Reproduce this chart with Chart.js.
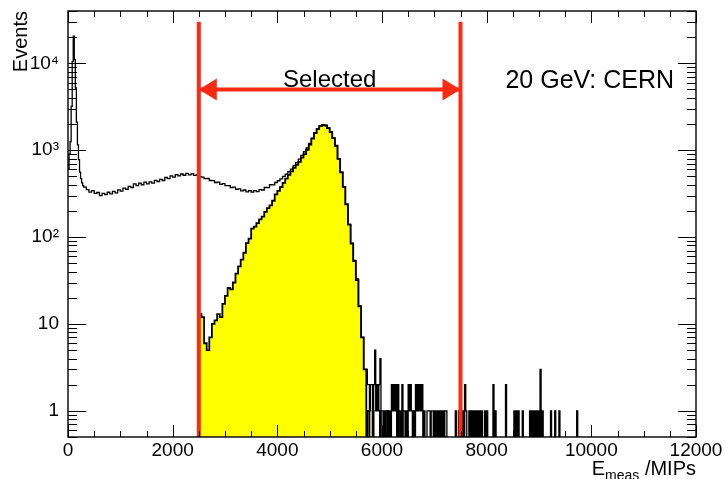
<!DOCTYPE html>
<html>
<head>
<meta charset="utf-8">
<script src="https://cdn.jsdelivr.net/npm/chart.js@4.4.1/dist/chart.umd.min.js"></script>
<style>
  html, body { margin: 0; padding: 0; background: #fff; }
</style>
</head>
<body>
<canvas id="chart" width="725" height="479"></canvas>
<script>
'use strict';

// axis ranges and tick labels
const X_MIN = 0;
const X_MAX = 12000;
const Y_MIN = 0.5;
const Y_MAX = 40000;
const xTickValues = [0, 2000, 4000, 6000, 8000, 10000, 12000];
const xMinorStep = 500;
const yTickValues = [1, 10, 100, 1000, 10000];
const yTickLabels = ['1', '10', '10²', '10³', '10⁴'];

// all events: pedestal region, 20 MIP bins starting at 0
const spikeStart = 0;
const spikeWidth = 20;
const spikeCounts = [600, 900, 1250, 3200, 10500, 20500, 11000, 5200, 2100, 1150, 780, 560, 470, 420, 390];

// all events: 50 MIP bins from 300 to 5700
const allStart = 300;
const allWidth = 50;
const allCounts = [
  375, 352, 330, 342, 318, 326, 300, 318, 309, 328,
  315, 336, 322, 350, 338, 366, 355, 384, 372, 409,
  392, 418, 400, 428, 410, 432, 418, 450, 436, 462,
  448, 485, 470, 505, 490, 522, 505, 532, 515, 540,
  520, 535, 512, 518, 495, 490, 470, 472, 448, 446,
  425, 428, 405, 412, 392, 392, 372, 375, 355, 358,
  340, 348, 332, 342, 330, 342, 334, 352, 348, 372,
  370, 400, 398, 425, 445, 468, 500, 530, 565, 605,
  665, 720, 790, 870, 960, 1060, 1200, 1380, 1580, 1760,
  1900, 1960, 1930, 1800, 1620, 1380, 1130, 800, 560, 380,
  240, 140, 85, 54, 33, 16, 7, 3
];

// selected events: 50 MIP bins from 2500 to 5700
const selStart = 2500;
const selWidth = 50;
const selCounts = [
  13, 12, 6, 5, 7, 10, 11, 13, 12, 17,
  21, 26, 25, 30, 38, 46, 55, 66, 85, 96,
  125, 132, 145, 160, 172, 195, 215, 232, 262, 310,
  340, 375, 420, 470, 520, 570, 625, 680, 735, 820,
  900, 1010, 1160, 1360, 1570, 1750, 1895, 1955, 1925, 1795,
  1615, 1375, 1125, 795, 555, 378, 238, 139, 84, 53,
  32, 16, 7, 3
];

// sparse high-energy tail, 20 MIP bins (lower edges)
const tailWidth = 20;
const tailBins = [
  5700, 5720, 5740, 5760, 5780, 5800, 5820, 5840, 5860, 5880,
  5900, 5920, 5940, 5960, 5980, 6000, 6040, 6080, 6100, 6140,
  6180, 6200, 6220, 6240, 6260, 6300, 6320, 6360, 6380, 6400,
  6420, 6460, 6500, 6520, 6540, 6560, 6600, 6640, 6660, 6680,
  6700, 6720, 6740, 6760, 6800, 6860, 6880, 6900, 6940, 6960,
  7000, 7040, 7080, 7120, 7160, 7200, 7220, 7400, 7460, 7540,
  7580, 7600, 7660, 7700, 7740, 7780, 7820, 7860, 7900, 7960,
  8000, 8120, 8160, 8360, 8520, 8560, 8600, 8680, 8820, 8860,
  8900, 8940, 8980, 9020, 9060, 9220, 9300, 9380, 9720
];
const tailCounts = [
  3, 2, 2, 1, 2, 2, 1, 2, 5, 1,
  2, 1, 2, 4, 1, 1, 1, 1, 1, 1,
  2, 1, 2, 1, 2, 2, 1, 1, 2, 1,
  1, 1, 2, 1, 2, 1, 1, 2, 1, 2,
  1, 2, 1, 2, 1, 1, 1, 1, 1, 1,
  1, 1, 1, 1, 1, 1, 1, 1, 1, 1,
  2, 1, 1, 1, 1, 1, 1, 1, 1, 1,
  1, 2, 1, 2, 1, 1, 1, 1, 1, 1,
  1, 1, 1, 3, 1, 1, 1, 1, 1
];
const selTailBins = [5720, 5740, 5820, 5960, 6100, 6300, 6380];
const selTailCounts = [1, 1, 1, 1, 1, 1, 1];

// selection window
const cutLow = 2500;
const cutHigh = 7500;
const cutTop = 30000;
const arrowY = 5000;
const energyLabel = '20 GeV: CERN';
const energyLabelX = 11580;

const RED = '#ff2a14';
const YELLOW = '#ffff00';
const FONT = "'Liberation Sans', Arial, Helvetica, sans-serif";
const FLOOR = 0.01; // empty bins drop below the axis

function regularBins(start, width, counts) {
  return counts.map((c, i) => ({ lo: start + i * width, hi: start + (i + 1) * width, c }));
}

function sparseBins(edges, width, counts) {
  return edges.map((lo, i) => ({ lo, hi: lo + width, c: counts[i] }));
}

// turn bins into points for a stepped ('before') line
function stepPoints(bins) {
  const pts = [];
  let prevHi = null;
  bins.forEach((b) => {
    if (prevHi !== null && prevHi !== b.lo) pts.push({ x: prevHi, y: FLOOR });
    pts.push({ x: b.lo, y: b.c > 0 ? b.c : FLOOR });
    prevHi = b.hi;
  });
  pts.push({ x: prevHi, y: FLOOR });
  return pts;
}

const allPoints = stepPoints([
  ...regularBins(spikeStart, spikeWidth, spikeCounts),
  ...regularBins(allStart, allWidth, allCounts),
  ...sparseBins(tailBins, tailWidth, tailCounts),
]);

const selPoints = stepPoints([
  ...regularBins(selStart, selWidth, selCounts),
  ...sparseBins(selTailBins, tailWidth, selTailCounts),
]);

function line(ctx, x1, y1, x2, y2) {
  ctx.beginPath();
  ctx.moveTo(x1, y1);
  ctx.lineTo(x2, y2);
  ctx.stroke();
}

// ROOT-like frame, inward ticks, arrow heads and labels
const rootStyle = {
  id: 'rootStyle',
  afterDatasetsDraw(chart) {
    const { ctx, chartArea: a, scales: { x, y } } = chart;
    ctx.save();

    ctx.strokeStyle = '#000';
    ctx.lineWidth = 1;
    for (let v = X_MIN; v <= X_MAX; v += xMinorStep) {
      const px = Math.round(x.getPixelForValue(v)) + 0.5;
      const len = xTickValues.includes(v) ? 12 : 6;
      line(ctx, px, a.bottom, px, a.bottom - len);
      line(ctx, px, a.top, px, a.top + len);
    }
    for (let d = 0.1; d <= Y_MAX; d *= 10) {
      for (let m = 1; m <= 9; m++) {
        const v = m * d;
        if (v < Y_MIN * 0.999 || v > Y_MAX) continue;
        const py = Math.round(y.getPixelForValue(v)) + 0.5;
        const len = m === 1 ? 18 : 9;
        line(ctx, a.left, py, a.left + len, py);
        line(ctx, a.right, py, a.right - len, py);
      }
    }

    ctx.lineWidth = 1.4;
    ctx.strokeRect(a.left, a.top, a.right - a.left, a.bottom - a.top);

    // arrow heads on the selection arrow
    const xl = x.getPixelForValue(cutLow);
    const xr = x.getPixelForValue(cutHigh);
    const ya = y.getPixelForValue(arrowY);
    ctx.fillStyle = RED;
    ctx.beginPath();
    ctx.moveTo(xl, ya);
    ctx.lineTo(xl + 18, ya - 11);
    ctx.lineTo(xl + 18, ya + 11);
    ctx.closePath();
    ctx.fill();
    ctx.beginPath();
    ctx.moveTo(xr, ya);
    ctx.lineTo(xr - 18, ya - 11);
    ctx.lineTo(xr - 18, ya + 11);
    ctx.closePath();
    ctx.fill();

    ctx.fillStyle = '#000';
    ctx.textBaseline = 'alphabetic';
    ctx.font = '24px ' + FONT;
    ctx.textAlign = 'center';
    ctx.fillText('Selected', x.getPixelForValue((cutLow + cutHigh) / 2), ya - 2);

    ctx.font = '25px ' + FONT;
    ctx.textAlign = 'right';
    ctx.fillText(energyLabel, x.getPixelForValue(energyLabelX), ya - 1);

    // y axis title
    ctx.save();
    ctx.translate(27, a.top);
    ctx.rotate(-Math.PI / 2);
    ctx.font = '20px ' + FONT;
    ctx.textAlign = 'right';
    ctx.fillText('Events', 0, 0);
    ctx.restore();

    // x axis title: E_meas /MIPs
    const base = 475;
    ctx.textAlign = 'left';
    ctx.font = '20px ' + FONT;
    const tail = ' /MIPs';
    const wTail = ctx.measureText(tail).width;
    const wE = ctx.measureText('E').width;
    ctx.font = '14px ' + FONT;
    const wSub = ctx.measureText('meas').width;
    let px = a.right - wTail - wSub - wE;
    ctx.font = '20px ' + FONT;
    ctx.fillText('E', px, base);
    px += wE;
    ctx.font = '14px ' + FONT;
    ctx.fillText('meas', px, base + 5);
    px += wSub;
    ctx.font = '20px ' + FONT;
    ctx.fillText(tail, px, base);

    ctx.restore();
  },
};

const tickFont = { family: FONT, size: 19 };

new Chart(document.getElementById('chart'), {
  type: 'line',
  data: {
    datasets: [
      {
        label: 'cut low',
        data: [{ x: cutLow, y: FLOOR }, { x: cutLow, y: cutTop }],
        borderColor: RED,
        borderWidth: 4,
        order: 0,
      },
      {
        label: 'cut high',
        data: [{ x: cutHigh, y: FLOOR }, { x: cutHigh, y: cutTop }],
        borderColor: RED,
        borderWidth: 4,
        order: 0,
      },
      {
        label: 'selected window',
        data: [{ x: cutLow, y: arrowY }, { x: cutHigh, y: arrowY }],
        borderColor: RED,
        borderWidth: 4,
        order: 0,
      },
      {
        label: 'all events',
        data: allPoints,
        stepped: true,
        borderColor: '#000',
        borderWidth: 1.3,
        fill: false,
        order: 1,
      },
      {
        label: 'selected',
        data: selPoints,
        stepped: true,
        borderColor: '#000',
        borderWidth: 1.8,
        backgroundColor: YELLOW,
        fill: 'start',
        order: 2,
      },
    ],
  },
  options: {
    responsive: false,
    animation: false,
    events: [],
    parsing: false,
    normalized: true,
    elements: {
      point: { radius: 0, hitRadius: 0 },
      line: { tension: 0 },
    },
    layout: { padding: { top: 11, right: 29, left: 0, bottom: 0 } },
    plugins: {
      legend: { display: false },
      tooltip: { enabled: false },
    },
    scales: {
      x: {
        type: 'linear',
        min: X_MIN,
        max: X_MAX,
        afterBuildTicks: (s) => { s.ticks = xTickValues.map((v) => ({ value: v })); },
        afterFit: (s) => {
          s.height = 42;
          s.paddingLeft = 0;
          s.paddingRight = 0;
        },
        grid: { display: false, drawTicks: false },
        border: { display: false },
        ticks: {
          font: tickFont,
          color: '#000',
          padding: 2,
          maxRotation: 0,
          autoSkip: false,
          callback: (v) => String(v),
        },
      },
      y: {
        type: 'logarithmic',
        min: Y_MIN,
        max: Y_MAX,
        afterBuildTicks: (s) => { s.ticks = yTickValues.map((v) => ({ value: v })); },
        afterFit: (s) => {
          s.width = 68;
          s.paddingTop = 0;
          s.paddingBottom = 0;
        },
        grid: { display: false, drawTicks: false },
        border: { display: false },
        ticks: {
          font: tickFont,
          color: '#000',
          padding: 9,
          autoSkip: false,
          callback: (v, i) => yTickLabels[i],
        },
      },
    },
  },
  plugins: [rootStyle],
});
</script>
</body>
</html>
